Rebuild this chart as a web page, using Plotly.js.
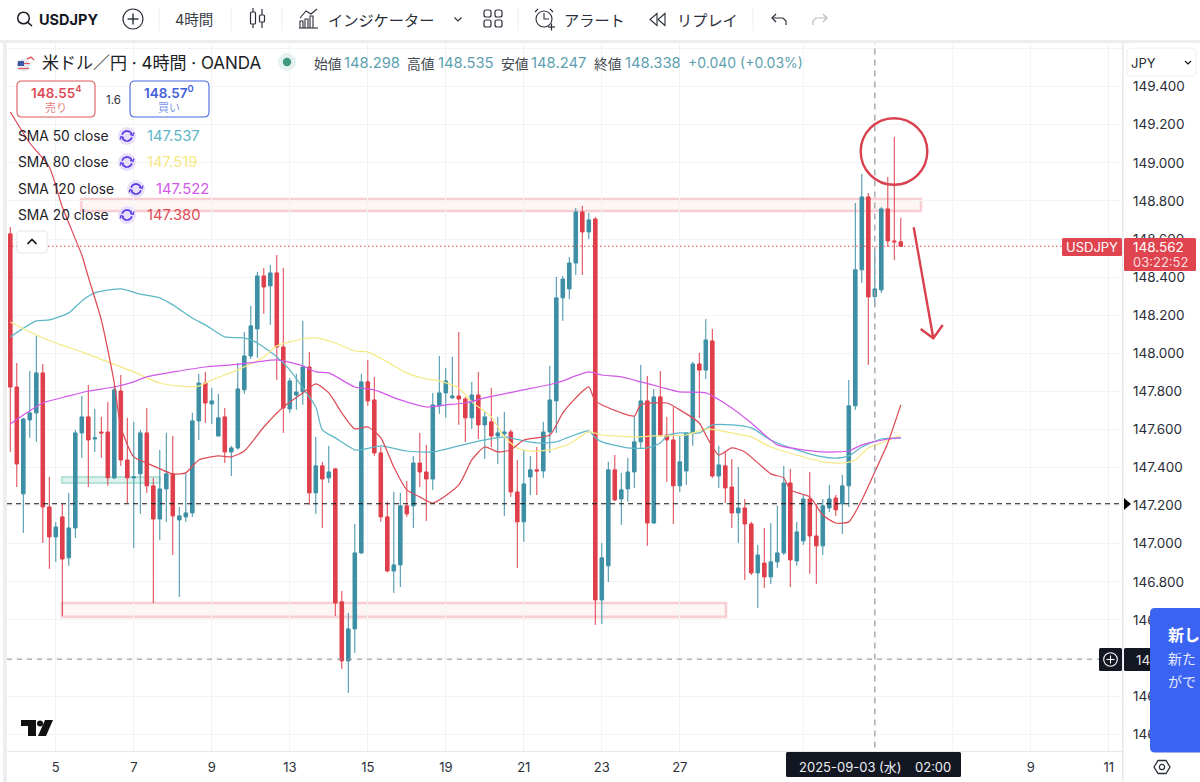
<!DOCTYPE html>
<html><head><meta charset="utf-8">
<style>html,body{margin:0;padding:0;background:#fff;overflow:hidden}#c{width:1200px;height:782px}</style>
<script src="https://cdn.plot.ly/plotly-3.0.1.min.js"></script>
</head><body><div id="c"></div>
<script>
const opens=[148.627,147.823,147.262,147.650,147.687,147.897,147.193,147.036,147.141,146.926,
147.083,147.582,147.666,147.550,147.587,147.587,147.346,147.802,147.440,147.346,
147.367,147.582,147.304,147.130,147.288,147.367,147.125,147.141,147.162,147.645,
147.844,147.734,147.566,147.666,147.482,147.503,147.808,147.986,148.128,148.406,
148.354,148.422,148.033,147.708,147.781,147.797,147.928,147.267,147.409,147.346,
147.393,146.695,146.385,146.553,146.952,147.850,147.755,147.477,147.141,146.857,
146.889,147.199,147.199,147.424,147.377,147.340,147.724,147.792,147.766,147.776,
147.760,147.661,147.781,147.624,147.640,147.566,147.577,147.587,147.272,147.115,
147.351,147.388,147.382,147.587,147.750,148.291,148.338,148.474,148.742,148.637,
148.705,146.705,146.884,147.388,147.235,147.288,147.377,147.535,147.750,147.109,
147.771,147.571,147.545,147.304,147.382,147.582,147.944,147.912,148.065,147.356,
147.409,147.298,147.162,147.188,147.104,146.847,146.899,146.826,146.905,146.952,
147.319,146.910,147.015,147.235,147.041,146.989,147.188,147.240,147.209,147.304,
147.724,148.438,148.821,148.298,148.333,148.758,148.590,148.585];
const closes=[147.823,147.419,147.655,147.687,147.897,147.193,147.036,147.088,146.920,147.083,
147.582,147.666,147.545,147.556,147.582,147.346,147.808,147.440,147.346,147.351,
147.582,147.304,147.130,147.288,147.367,147.146,147.146,147.162,147.645,147.844,
147.739,147.750,147.661,147.482,147.503,147.813,147.986,148.144,148.406,148.348,
148.422,148.033,147.713,147.855,147.797,147.928,147.267,147.409,147.340,147.377,
146.689,146.385,146.553,146.952,147.850,147.750,147.477,147.141,146.857,146.889,
147.199,147.157,147.424,147.377,147.340,147.729,147.792,147.855,147.776,147.760,
147.661,147.781,147.624,147.666,147.566,147.582,147.587,147.272,147.115,147.314,
147.388,147.382,147.587,147.755,148.291,148.390,148.474,148.742,148.637,148.700,
146.705,146.926,147.388,147.230,147.283,147.377,147.535,147.750,147.109,147.771,
147.571,147.545,147.304,147.430,147.582,147.944,147.912,148.070,147.356,147.414,
147.293,147.162,147.188,147.104,146.847,146.941,146.826,146.905,146.952,147.319,
146.915,147.062,147.235,147.041,146.989,147.199,147.235,147.178,147.304,147.724,
148.438,148.821,148.296,148.338,148.758,148.590,148.585,148.562];
const highs=[148.663,147.949,147.661,147.907,148.091,147.944,147.351,147.115,147.209,147.267,
147.598,147.776,147.834,147.708,147.666,147.745,147.834,147.886,147.661,147.640,
147.598,147.713,147.346,147.493,147.582,147.566,147.193,147.372,147.687,147.892,
147.902,147.818,147.787,147.713,147.514,147.949,148.112,148.249,148.427,148.448,
148.464,148.516,148.448,147.871,147.892,148.170,148.007,147.561,147.430,147.514,
147.398,146.752,146.637,147.104,147.892,147.965,147.876,147.508,147.220,147.272,
147.267,147.330,147.461,147.582,147.519,147.792,147.986,147.923,147.981,148.112,
147.771,147.850,147.902,147.692,147.818,147.666,147.692,147.598,147.440,147.493,
147.461,147.508,147.640,147.934,148.401,148.406,148.506,148.763,148.774,148.737,
148.716,147.004,147.430,147.466,147.372,147.451,147.671,147.939,147.881,147.813,
147.907,147.666,147.718,147.571,147.582,147.955,148.002,148.180,148.128,147.514,
147.482,147.445,147.403,147.235,147.115,146.994,147.083,147.109,147.199,147.409,
147.393,147.115,147.256,147.377,147.209,147.235,147.309,147.256,147.361,147.860,
148.789,148.942,148.842,148.535,148.768,148.926,149.136,148.711];
const lows=[147.482,147.298,147.057,147.556,147.535,147.004,146.868,146.905,146.621,146.884,
147.031,147.451,147.298,147.482,147.451,147.304,147.340,147.409,147.214,146.978,
147.157,147.267,146.689,147.020,147.115,146.941,146.721,147.115,147.141,147.545,
147.634,147.629,147.561,147.424,147.356,147.493,147.787,147.970,147.976,148.207,
148.149,147.860,147.582,147.687,147.703,147.729,147.204,147.157,147.083,147.319,
146.621,146.343,146.217,146.427,146.946,147.724,147.461,147.115,146.850,146.742,
146.773,147.141,147.083,147.298,147.120,147.283,147.682,147.661,147.760,147.624,
147.535,147.603,147.550,147.445,147.508,147.419,147.146,147.246,146.873,147.010,
147.256,147.256,147.346,147.477,147.582,148.170,148.285,148.411,148.411,148.600,
146.574,146.579,146.799,147.225,147.099,147.220,147.293,147.503,146.989,147.105,
147.561,147.325,147.104,147.272,147.309,147.514,147.661,147.865,147.346,147.293,
147.214,147.083,147.004,146.810,146.836,146.663,146.768,146.789,146.873,146.941,
146.773,146.884,146.994,146.842,146.789,146.941,147.167,147.146,147.052,147.193,
147.703,148.369,147.939,148.247,148.317,148.558,148.490,148.558];

const sma50Bars=[0,4,6,9,11,13,17,20,23,25,28,30,33,36,38,41,43,45,47,48,50,53,54,57,61,65,69,73,76,79,81,84,86,89,90,91,95,98,100,101,103,106,108,111,114,117,121,125,127,129,131,134,137];
const sma50=[148.086,148.170,148.175,148.212,148.275,148.317,148.338,148.311,148.291,148.254,148.185,148.149,148.086,148.081,148.054,147.981,147.913,147.818,147.718,147.598,147.556,147.493,147.493,147.514,147.487,147.482,147.514,147.545,147.561,147.540,147.529,147.535,147.561,147.592,147.556,147.535,147.503,147.503,147.529,147.566,147.582,147.582,147.624,147.624,147.608,147.545,147.493,147.456,147.450,147.461,147.508,147.550,147.556];
const sma80Bars=[0,3,7,11,15,19,23,26,29,31,35,39,41,45,47,50,53,55,58,61,64,66,69,71,74,76,78,80,83,86,89,91,96,99,104,107,111,114,117,122,125,128,130,132,134,137];
const sma80=[148.164,148.112,148.054,148.007,147.955,147.902,147.844,147.828,147.828,147.860,147.913,147.981,148.039,148.075,148.081,148.054,148.012,148.007,147.955,147.897,147.865,147.855,147.818,147.745,147.666,147.561,147.503,147.487,147.493,147.524,147.587,147.571,147.561,147.566,147.571,147.603,147.582,147.561,147.508,147.456,147.430,147.424,147.440,147.503,147.529,147.571];
const sma120Bars=[0,2,5,9,12,16,19,21,26,30,34,38,41,45,47,49,53,56,60,64,67,70,73,79,84,89,91,94,97,100,103,107,111,114,118,121,125,129,131,135,137];
const sma120=[147.629,147.676,147.739,147.776,147.802,147.823,147.850,147.876,147.907,147.928,147.939,147.955,147.965,147.934,147.902,147.897,147.823,147.808,147.755,147.718,147.729,147.739,147.766,147.808,147.844,147.902,147.886,147.876,147.850,147.823,147.797,147.792,147.713,147.634,147.519,147.498,147.482,147.487,147.519,147.550,147.556];
const sma20Bars=[0,3,6,8,11,12,14,16,17,19,21,25,27,29,32,34,36,39,42,45,47,49,51,53,55,57,59,61,63,65,69,71,73,75,77,79,83,85,87,89,90,94,96,97,101,103,106,107,109,111,113,117,119,120,123,125,127,129,131,133,135,137];
const sma20=[149.267,149.104,148.978,148.768,148.516,148.401,148.175,147.844,147.613,147.456,147.424,147.367,147.372,147.440,147.461,147.456,147.487,147.613,147.718,147.792,147.839,147.792,147.687,147.603,147.613,147.556,147.403,147.283,147.246,147.214,147.309,147.440,147.508,147.482,147.493,147.545,147.571,147.687,147.766,147.823,147.750,147.687,147.671,147.729,147.739,147.703,147.634,147.571,147.466,147.503,147.482,147.367,147.346,147.283,147.246,147.151,147.109,147.115,147.230,147.377,147.529,147.729];

const xTickBars=[7,19,31,43,55,67,79,91,103,157,169];
const xTickLabels=['5','7','9','13','15','19','21','23','27','9','11'];
const xGridOnlyBars=[122,145];
const yTickVals=[146,146.2,146.6,146.8,147,147.2,147.4,147.6,147.8,148,148.2,148.4,148.6,148.8,149,149.2,149.4];
const yTickLabels=['146','146','146','146.800','147.000','147.200','147.400','147.600','147.800','148.000','148.200','148.400','148.600','148.800','149.000','149.200','149.400'];
const yGridOnly=[146.4,149.6];
const smaLabels=['SMA 50 close','SMA 80 close','SMA 120 close','SMA 20 close'];
const smaValues=['147.537','147.519','147.522','147.380'];
const smaColors=['#5db6c6','#f6e985','#d259e8','#dd4b57'];
const lastPrice=148.562, dashedLevel=147.210, crossPrice=146.394, crossBar=133;

const TEAL='#3d8fa5', RED='#df3f4b', INK='#131722', GRID='#f1f3f5', FONT='Inter, Noto Sans CJK JP, sans-serif', JP='Noto Sans CJK JP, Inter, sans-serif';
const W=1200,H=782,L=7,R=1122,T=43,B=751;
const fx=p=>(p-L)/(R-L), fy=p=>(B-p)/(B-T);
const bars=opens.map((_,i)=>i);
const anns=[], shapes=[];
function txt(s,x,y,o={}){anns.push({text:s,xref:'paper',yref:'paper',x:fx(x),y:fy(y),xanchor:o.a||'left',yanchor:'middle',showarrow:false,
 font:{family:o.f||FONT,size:o.s||14,color:o.c||INK,weight:o.w||400},borderpad:0,borderwidth:0});}
function path(pts,o={}){const d=pts.map((p,i)=>(i?'L':'M')+fx(p[0])+' '+fy(p[1])).join(' ')+(o.close?' Z':'');
 shapes.push({type:'path',xref:'paper',yref:'paper',layer:'above',path:d,line:{color:o.c||'#2a2e39',width:o.w===undefined?1.4:o.w},fillcolor:o.fill||'rgba(0,0,0,0)'});}
function circ(x,y,r,o={}){shapes.push({type:'circle',xref:'paper',yref:'paper',layer:'above',x0:fx(x-r),x1:fx(x+r),y0:fy(y+r),y1:fy(y-r),line:{color:o.c||'#2a2e39',width:o.w===undefined?1.4:o.w},fillcolor:o.fill||'rgba(0,0,0,0)'});}
function rrect(x0,y0,x1,y1,r,o={}){const a=(c,p)=>c+fx(p[0])+' '+fy(p[1]);
 const d=[a('M',[x0+r,y0]),a('L',[x1-r,y0]),a('Q',[x1,y0])+' '+fx(x1)+' '+fy(y0+r),a('L',[x1,y1-r]),a('Q',[x1,y1])+' '+fx(x1-r)+' '+fy(y1),a('L',[x0+r,y1]),a('Q',[x0,y1])+' '+fx(x0)+' '+fy(y1-r),a('L',[x0,y0+r]),a('Q',[x0,y0])+' '+fx(x0+r)+' '+fy(y0),'Z'].join(' ');
 const s={type:'path',xref:'paper',yref:'paper',layer:'above',path:d,line:{color:o.c||'rgba(0,0,0,0)',width:o.w===undefined?1:o.w},fillcolor:o.fill||'rgba(0,0,0,0)'};
 shapes.push(s);return s;}
function rect(x0,y0,x1,y1,fill){shapes.push({type:'rect',xref:'paper',yref:'paper',layer:'above',x0:fx(x0),x1:fx(x1),y0:fy(y1),y1:fy(y0),line:{width:0},fillcolor:fill});}

/* grid lines that carry no visible label */
yGridOnly.forEach(p=>shapes.push({type:'line',xref:'paper',yref:'y',layer:'below',x0:0,x1:1,y0:p,y1:p,line:{color:GRID,width:1}}));
xGridOnlyBars.forEach(b=>shapes.push({type:'line',xref:'x',yref:'paper',layer:'below',x0:b,x1:b,y0:0,y1:1,line:{color:GRID,width:1}}));

/* price-anchored zones, under the candles */
function zone(a,b,p0,p1,line,fill){shapes.push({type:'rect',xref:'x',yref:'y',layer:'below',x0:a,x1:b,y0:p0,y1:p1,line:{color:line,width:2.6},fillcolor:fill});}
zone(10.9,140.1,148.747,148.810,'#f7cfd2','#fef5f5');
zone(7.95,110.1,146.616,146.689,'#f7cfd2','#fef5f5');
shapes.push({type:'rect',xref:'x',yref:'y',layer:'below',x0:7.95,x1:23,y0:147.319,y1:147.351,line:{color:'#b5e3d9',width:2},fillcolor:'#dff3ee'});

/* level lines + crosshair */
function hline(p,color,dash,x0){shapes.push({type:'line',xref:'paper',yref:'y',layer:'above',x0:x0||0,x1:1,y0:p,y1:p,line:{color,width:1,dash}});}
hline(lastPrice,RED,'1.5px,2.5px',fx(12));
hline(dashedLevel,'#111','5px,4px');
hline(crossPrice,'#8b8e94','5px,5px');
shapes.push({type:'line',xref:'x',yref:'paper',layer:'above',x0:crossBar,x1:crossBar,y0:0.005,y1:1,line:{color:'#a3a6ad',width:1.4,dash:'6px,5px'}});

/* hand-drawn circle + arrow */
circ(894,151.5,33.3,{c:'#d8414d',w:2.4});
path([[913.7,227.3],[933.3,338.3]],{c:'#d8414d',w:2.4});
path([[920.7,329],[933.3,338.3],[942.7,325]],{c:'#d8414d',w:2.4});

/* panel frame */
rect(0,0,1200,40,'#ffffff');
rect(0,40,1200,43,'#eceef0');
rect(3,43,7,782,'#eceef0');
rect(1122,43,1123.5,782,'#e6e8eb');
rect(7,751,1122,752,'#e6e8eb');

/* toolbar */
circ(23.5,18,5.8,{c:'#1c1f26',w:1.5}); path([[27.8,22.4],[32,26]],{c:'#1c1f26',w:1.6});
txt('USDJPY',39,19,{s:14.5,w:700});
circ(133,19,10,{c:'#2a2e39',w:1.2}); path([[127.5,19],[138.5,19]]); path([[133,13.5],[133,24.5]]);
txt('4時間',175,19,{s:14.5,c:'#3a3d45'});
[159,231,282,518,753].forEach(x=>path([[x,7],[x,31]],{c:'#eceef0',w:1}));
path([[253,8],[253,28]],{w:1.2}); rrect(250.5,12,255.5,24,1,{c:'#2a2e39',w:1.2,fill:'#fff'});
path([[262,9],[262,28]],{w:1.2}); rrect(259.5,15,264.5,22,1,{c:'#2a2e39',w:1.2,fill:'#fff'});
path([[300,18],[306,11],[311,14],[317,9]],{w:1.1});
[[300,21,303,28],[305,19,308,28],[310,16,313,28]].forEach(b=>path([[b[0],b[3]],[b[0],b[1]],[b[2],b[1]],[b[2],b[3]]],{w:1.1}));
path([[299,28],[318,28]],{w:1.1});
txt('インジケーター',328,19,{s:15.2,c:'#2a2e39',f:JP});
path([[454.5,17.5],[458,21],[461.5,17.5]],{w:1.1});
[[484,10],[495,10],[484,20],[495,20]].forEach(p=>rrect(p[0],p[1],p[0]+7,p[1]+7,2,{c:'#2a2e39',w:1.2}));
circ(544,19,8,{c:'#2a2e39',w:1.1}); path([[544,13],[544,19],[549,19]],{w:1.1}); path([[535,12],[538,9]],{w:1.1}); path([[553,12],[550,9]],{w:1.1});
path([[548,27],[555,27]],{w:1.2}); path([[551.5,23.5],[551.5,30.5]],{w:1.2});
txt('アラート',564,19,{s:15.2,c:'#2a2e39',f:JP});
path([[657,13.5],[650,19.5],[657,25.5]],{w:1.1,close:true}); path([[665,13.5],[658,19.5],[665,25.5]],{w:1.1,close:true});
txt('リプレイ',677,19,{s:15.2,c:'#2a2e39',f:JP});
path([[776,14],[772,18],[776,22]],{w:1.2}); path([[772,18],[783,18],[786,21],[786,25]],{w:1.2});
path([[823,14],[827,18],[823,22]],{c:'#b8bbc1',w:1.2}); path([[827,18],[816,18],[813,21],[813,25]],{c:'#b8bbc1',w:1.2});

/* header */
circ(23.5,65,6.5,{c:'#e7e7ef',w:0,fill:'#e7e7ef'});
path([[18,61],[24,61],[24,66],[17.5,66]],{c:'#3e55a8',w:0,fill:'#3e55a8',close:true});
path([[24,63.5],[30,63.5]],{c:'#dc5960',w:1.2}); path([[18,68.5],[29,68.5]],{c:'#dc5960',w:1.2});
path([[27,59],[31,57],[34,60]],{c:'#dc5960',w:1.4});
txt('米ドル／円 · 4時間 · OANDA',42,63,{s:17,c:'#1b1e25'});
circ(287,62,9,{c:'#e4f1ee',w:0,fill:'#e4f1ee'}); circ(287,62,4.2,{c:'#3f977f',w:0,fill:'#3f977f'});
const OHLC='#5d9fb0';
[['始値',314,'148.298',344],['高値',407,'148.535',438],['安値',501,'148.247',531],['終値',594,'148.338',625]].forEach(r=>{
 txt(r[0],r[1],63,{s:13.8,c:'#444850',f:JP}); txt(r[2],r[3],63,{s:14.8,c:OHLC});});
txt('+0.040 (+0.03%)',688,63,{s:14,c:OHLC});

/* sell / buy */
rrect(17,81,95,117,5,{c:'#e0565f',w:1.1,fill:'#fff'});
txt('148.55<sup>4</sup>',56,92,{a:'center',s:13.5,w:600,c:'#dc4b55'});
txt('売り',56,107,{a:'center',s:11,c:'#e77f86',f:JP});
txt('1.6',113,100,{a:'center',s:11.5,c:'#333'});
rrect(130,81,209,117,5,{c:'#4a68e0',w:1.1,fill:'#fff'});
txt('148.57<sup>0</sup>',169,92,{a:'center',s:13.5,w:600,c:'#3f60d9'});
txt('買い',169,107,{a:'center',s:11,c:'#7f98e9',f:JP});

/* indicator legend */
const rowY=[136,162,189,215], iconX=[127,127,136,127], valX=[147,147,156,147];
smaLabels.forEach((s,i)=>{
 txt(s,18,rowY[i],{s:13.8,c:'#1f2229'});
 const cx=iconX[i],cy=rowY[i];
 circ(cx,cy,9,{c:'#e7e0fb',w:0,fill:'#e7e0fb'});
 const arc=(a0,a1)=>{const p=[];for(let k=0;k<=10;k++){const a=(a0+(a1-a0)*k/10)*Math.PI/180;p.push([cx+5*Math.cos(a),cy+5*Math.sin(a)]);}return p;};
 path(arc(195,345),{c:'#5a38e6',w:1.7}); path(arc(15,165),{c:'#5a38e6',w:1.7});
 path([[cx+3,cy-1.5],[cx+6,cy-0.5],[cx+7,cy-3.5]],{c:'#5a38e6',w:1.2}); path([[cx-3,cy+1.5],[cx-6,cy+0.5],[cx-7,cy+3.5]],{c:'#5a38e6',w:1.2});
 txt(smaValues[i],valX[i],rowY[i],{s:14.8,c:smaColors[i]});
});
rrect(17,231,47,253,3,{c:'#e4e6e9',w:1,fill:'#ffffff'});
path([[27.5,244],[32,239.5],[36.5,244]],{c:'#111',w:1.6});

/* TradingView mark */
path([[21,720],[36,720],[36,736],[28,736],[28,726],[21,726]],{c:'#111',w:0,fill:'#111',close:true});
circ(40,723.5,3,{c:'#111',w:0,fill:'#111'});
path([[45,720],[53,720],[46,736],[38,736]],{c:'#111',w:0,fill:'#111',close:true});

/* right pane */
rrect(1127,48,1196,76,4,{c:'#eef0f2',w:1,fill:'#fff'});
txt('JPY',1131,63,{s:13,c:'#2a2e39'});
path([[1185,61],[1188,64],[1191,61]],{c:'#111',w:1.2});
path([[1124,498],[1131,504],[1124,510]],{c:'#000',w:0,fill:'#000',close:true});
rrect(1062,238,1122,256,1.5,{fill:'#df444f'});
txt('USDJPY',1092,247,{a:'center',s:13,c:'#fff'});
rrect(1124,238,1196,271,1.5,{fill:'#df444f'});
txt('148.562',1133,247,{s:13.5,c:'#fff'});
txt('03:22:52',1133,262,{s:13,c:'#fbdcdf'});

/* crosshair tags */
rrect(1099,648,1122,671,1.5,{fill:'#131722'});
circ(1110.5,659.5,6.8,{c:'#fff',w:1.1}); path([[1106.5,659.5],[1114.5,659.5]],{c:'#fff',w:1.1}); path([[1110.5,655.5],[1110.5,663.5]],{c:'#fff',w:1.1});
const tag=rrect(1124,648,1160,671,1.5,{fill:'#131722'});
tag.label={text:'146',textposition:'middle left',padding:9,font:{family:FONT,size:13.5,color:'#e8e8ea'}};
rrect(786,752,961,777,1.5,{fill:'#131722'});
txt('2025-09-03 (水)',799,767,{s:13,c:'#eef0f3',f:'Inter, Noto Sans CJK JP'});
txt('02:00',915,767,{s:13,c:'#eef0f3'});

/* settings hexagon */
path([[1154,767],[1158,760.5],[1166,760.5],[1170,767],[1166,773.5],[1158,773.5]],{c:'#2a2e39',w:1.3,close:true});
circ(1162,767,2.6,{c:'#2a2e39',w:1.2});

/* promo card */
rrect(1150,608,1215,752.5,5,{fill:'#3a63f2'});
txt('新し',1168,634,{s:16,w:700,c:'#fff',f:JP});
txt('新た',1168,658,{s:14,c:'#e4eaff',f:JP});
txt('がで',1168,681,{s:14,c:'#e4eaff',f:JP});

const smaTrace=(x,y,color,name)=>({type:'scatter',mode:'lines',x,y,name,line:{color,width:1.25,shape:'spline',smoothing:0.6},hoverinfo:'skip'});
const data=[
 {type:'candlestick',name:'USDJPY',x:bars,open:opens,high:highs,low:lows,close:closes,
  increasing:{line:{color:TEAL,width:1},fillcolor:TEAL},decreasing:{line:{color:RED,width:1},fillcolor:RED}},
 smaTrace(sma50Bars,sma50,smaColors[0],smaLabels[0]),
 smaTrace(sma80Bars,sma80,smaColors[1],smaLabels[1]),
 smaTrace(sma120Bars,sma120,smaColors[2],smaLabels[2]),
 smaTrace(sma20Bars,sma20,smaColors[3],smaLabels[3])
];
const layout={width:W,height:H,margin:{l:L,r:W-R,t:T,b:H-B,pad:0},paper_bgcolor:'#fff',plot_bgcolor:'#fff',showlegend:false,boxgap:0.22,
 font:{family:FONT,color:'#2a2e39',size:13},
 xaxis:{type:'linear',range:[-0.508,171.03],rangeslider:{visible:false},tickmode:'array',tickvals:xTickBars,ticktext:xTickLabels,
  showgrid:true,gridcolor:GRID,gridwidth:1,zeroline:false,ticks:'',ticklen:0,ticklabelstandoff:7,tickfont:{size:13,color:'#2a2e39',family:FONT},showline:false,automargin:false},
 yaxis:{side:'right',range:[145.912,149.629],tickmode:'array',tickvals:yTickVals,ticktext:yTickLabels,showgrid:true,gridcolor:GRID,gridwidth:1,zeroline:false,
  ticks:'',ticklen:0,ticklabelstandoff:10,tickfont:{size:13.5,color:'#2a2e39',family:FONT},showline:false,automargin:false},
 shapes,annotations:anns};
Plotly.newPlot('c',data,layout,{staticPlot:true,displayModeBar:false,responsive:false});
</script></body></html>
